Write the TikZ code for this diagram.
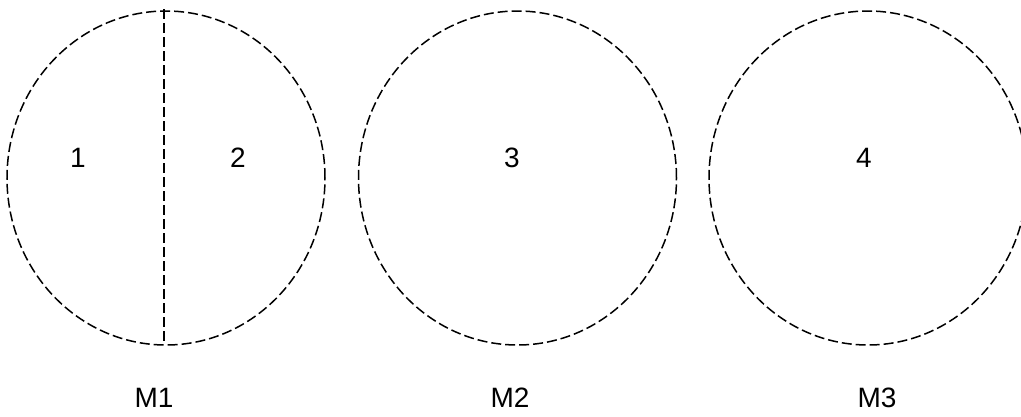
\documentclass[tikz,border=0pt]{standalone}
\usepackage{fontspec}
\setmainfont{Liberation Sans}
\usetikzlibrary{positioning,shapes.geometric}

\begin{document}
\begin{tikzpicture}[
    x=1pt, y=-1pt,
    zone/.style={ellipse, draw=black, line width=1.5pt, dash pattern=on 10pt off 4pt,
                 minimum width=318pt, minimum height=334pt, inner sep=0pt},
    num/.style={inner sep=0pt, font=\fontsize{28}{30}\selectfont},
    cut/.style={draw=black, line width=1.5pt, dash pattern=on 10pt off 4pt}
  ]
  \useasboundingbox (0,0) rectangle (1021,416);
  % the three circles
  \node[zone] (m1) at (166,178) {};
  \node[zone] (m2) at (517.5,178) {};
  \node[zone] (m3) at (868,178) {};
  \coordinate (cuttop) at (164,9);
  \coordinate (cutbot) at (164,344);
  \path[cut] (cuttop) -- (cutbot);
  % region numbers
  \node[num] (r1) at (78,158) {1};
  \node[num] (r2) at (238,158) {2};
  \node[num] (r3) at (512,158) {3};
  \node[num] (r4) at (864,158) {4};
  % machine names
  \node[num] (l1) at (154,397.5) {M1};
  \node[num] (l2) at (510,397.5) {M2};
  \node[num] (l3) at (877,397.5) {M3};
\end{tikzpicture}
\end{document}
